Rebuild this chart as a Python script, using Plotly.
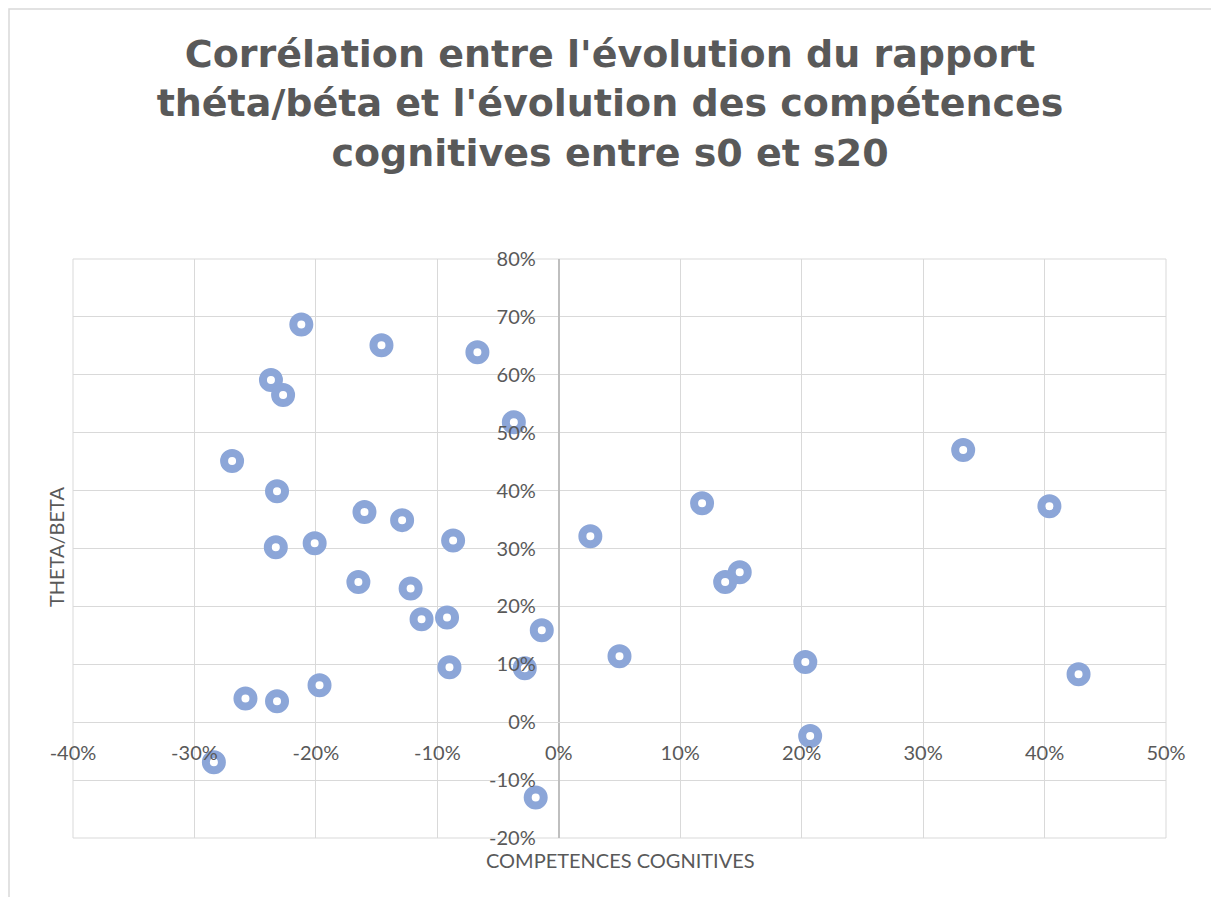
import plotly.graph_objects as go

# Data (fractions, displayed as %)
competences = [-0.212, -0.146, -0.067, -0.237, -0.227, -0.037, -0.269, -0.232,
               0.333, 0.118, 0.404, -0.160, -0.129, -0.087, -0.201, -0.233,
               0.026, 0.149, 0.137, -0.165, -0.122, -0.113, -0.092, -0.014,
               0.050, -0.090, -0.028, 0.203, 0.428, -0.197, -0.258, -0.232,
               0.207, -0.284, -0.019]
theta_beta = [0.687, 0.651, 0.639, 0.591, 0.565, 0.518, 0.451, 0.399,
              0.470, 0.378, 0.373, 0.363, 0.349, 0.314, 0.309, 0.302,
              0.321, 0.259, 0.242, 0.242, 0.231, 0.178, 0.181, 0.159,
              0.114, 0.095, 0.093, 0.104, 0.083, 0.064, 0.041, 0.036,
              -0.024, -0.069, -0.130]

title_text = ("Corrélation entre l'évolution du rapport<br>"
              "théta/béta et l'évolution des compétences<br>"
              "cognitives entre s0 et s20")
x_title = "COMPETENCES COGNITIVES"
y_title = "THETA/BETA"

x_ticks = [-0.4, -0.3, -0.2, -0.1, 0.0, 0.1, 0.2, 0.3, 0.4, 0.5]
x_labels = ["-40%", "-30%", "-20%", "-10%", "0%", "10%", "20%", "30%", "40%", "50%"]
y_ticks = [-0.2, -0.1, 0.0, 0.1, 0.2, 0.3, 0.4, 0.5, 0.6, 0.7, 0.8]
y_labels = ["-20%", "-10%", "0%", "10%", "20%", "30%", "40%", "50%", "60%", "70%", "80%"]

TEXT = "#595959"
GRID = "#D9D9D9"
FONT = "Lato, 'Open Sans', sans-serif"

# page offset (body margin) compensation
OFF = 8
W, H = 1219 - OFF, 897 - OFF
PL, PR, PT, PB = 73, 1166, 259, 838   # plot area in page pixels
pw, ph = PR - PL, PB - PT

fig = go.Figure(go.Scatter(
    x=competences, y=theta_beta, mode="markers",
    marker=dict(symbol="circle", size=16, color="white",
                line=dict(color="rgb(140,166,216)", width=8)),
    hoverinfo="x+y"))

x_min, x_max = -0.4, 0.5
y_min, y_max = -0.2, 0.8

def px_x(p):
    return (p - PL) / pw

def px_y(p):
    return (PB - p) / ph

fig.update_layout(
    width=W, height=H,
    margin=dict(l=PL - OFF, r=1219 - PR, t=PT - OFF, b=897 - PB),
    paper_bgcolor="white", plot_bgcolor="white",
    showlegend=False,
    title=dict(text=title_text, x=(610 - OFF) / W, xanchor="center",
               y=1 - (67 - OFF) / H, yanchor="middle", xref="container", yref="container",
               font=dict(family="'DejaVu Sans', sans-serif", size=38,
                         color=TEXT, weight="bold")),
    xaxis=dict(range=[x_min, x_max], tickvals=x_ticks, ticktext=x_labels,
               showgrid=True, gridcolor=GRID, gridwidth=1,
               zeroline=True, zerolinecolor="#BFBFBF", zerolinewidth=1.5,
               anchor="free", position=(0 - y_min) / (y_max - y_min),
               showline=False, ticks="", ticklabelstandoff=17,
               tickfont=dict(family=FONT, size=20, color=TEXT)),
    yaxis=dict(range=[y_min, y_max], tickvals=y_ticks, ticktext=y_labels,
               showgrid=True, gridcolor=GRID, gridwidth=1,
               zeroline=True, zerolinecolor=GRID, zerolinewidth=1,
               anchor="free", position=(0 - x_min) / (x_max - x_min),
               showline=False, ticks="", ticklabelstandoff=23,
               tickfont=dict(family=FONT, size=20, color=TEXT)),
    annotations=[
        dict(text=x_title, xref="paper", yref="paper", x=px_x(620), y=px_y(860),
             xanchor="center", yanchor="middle", showarrow=False,
             font=dict(family=FONT, size=20, color=TEXT)),
        dict(text=y_title, xref="paper", yref="paper", x=px_x(56), y=px_y(547),
             xanchor="center", yanchor="middle", showarrow=False, textangle=-90,
             font=dict(family=FONT, size=20, color=TEXT)),
    ],
    shapes=[
        dict(type="rect", xref="paper", yref="paper", x0=0, x1=1, y0=0, y1=1,
             line=dict(color=GRID, width=1), layer="below"),
        dict(type="rect", xref="paper", yref="paper",
             x0=px_x(9), x1=px_x(1215), y0=px_y(960), y1=px_y(9),
             line=dict(color=GRID, width=1.5), layer="below"),
    ],
)

fig.write_html("out.html")
